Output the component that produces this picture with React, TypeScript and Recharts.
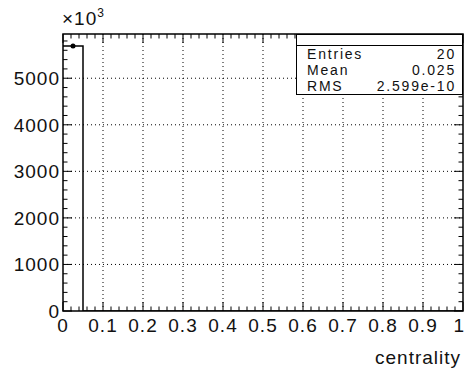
import {
    ComposedChart, Line, Scatter, XAxis, YAxis, ReferenceLine, ReferenceArea
} from "recharts";

// histogram bins (centrality), counts in units of 10^3
const BIN_LOW = [0, 0.05, 0.1, 0.15, 0.2, 0.25, 0.3, 0.35, 0.4, 0.45, 0.5, 0.55, 0.6, 0.65, 0.7, 0.75, 0.8, 0.85, 0.9, 0.95];
const COUNTS = [5690, 0, 0, 0, 0, 0, 0, 0, 0, 0, 0, 0, 0, 0, 0, 0, 0, 0, 0, 0];
const BIN_WIDTH = 0.05;
const X_MAX = 1;
const Y_MAX = 5950;

const X_MAJOR = [0, 0.1, 0.2, 0.3, 0.4, 0.5, 0.6, 0.7, 0.8, 0.9, 1];
const X_LABELS = ["0", "0.1", "0.2", "0.3", "0.4", "0.5", "0.6", "0.7", "0.8", "0.9", "1"];
const Y_MAJOR = [0, 1000, 2000, 3000, 4000, 5000];
const Y_LABELS = ["0", "1000", "2000", "3000", "4000", "5000"];

const STATS = [
    { name: "Entries", value: "20" },
    { name: "Mean", value: "0.025" },
    { name: "RMS", value: "2.599e-10" },
];

const W = 465;
const H = 372;
const LEFT = 63;
const TOP = 34;
const RIGHT = 463;
const BOTTOM = 311;
const FONT = "'Liberation Sans', Arial, Helvetica, sans-serif";

// minor tick positions (5 subdivisions per major)
const X_MINOR: number[] = [];
for (let i = 0; i <= 50; i++) X_MINOR.push(i * 0.02);
const Y_MINOR: number[] = [];
for (let v = 0; v <= Y_MAX; v += 200) Y_MINOR.push(v);

const histRows = BIN_LOW.map((x, i) => ({ x, count: COUNTS[i] })).concat([{ x: X_MAX, count: 0 }]);
const markerRows = BIN_LOW.map((x, i) => ({ x: x + BIN_WIDTH / 2, count: COUNTS[i] })).filter((r) => r.count > 0);

const majorIndex = (list: number[], v: number) => list.findIndex((m) => Math.abs(m - v) < 1e-6);

function XTick(props: any) {
    const { x, payload } = props;
    const idx = majorIndex(X_MAJOR, payload.value);
    const len = idx >= 0 ? 9 : 4.5;
    const last = idx === X_MAJOR.length - 1;
    return (
        <g>
            <line x1={x} x2={x} y1={BOTTOM} y2={BOTTOM - len} stroke="#000" strokeWidth={1} />
            <line x1={x} x2={x} y1={TOP} y2={TOP + len} stroke="#000" strokeWidth={1} />
            {idx >= 0 && (
                <text x={last ? W - 1 : x} y={BOTTOM + 21} textAnchor={last ? "end" : "middle"}
                    fontSize={19} letterSpacing={last ? 0 : 1} fontFamily={FONT} fill="#111">
                    {X_LABELS[idx]}
                </text>
            )}
        </g>
    );
}

function YTick(props: any) {
    const { y, payload } = props;
    const idx = majorIndex(Y_MAJOR, payload.value);
    const len = idx >= 0 ? 9 : 4.5;
    return (
        <g>
            <line x1={LEFT} x2={LEFT + len} y1={y} y2={y} stroke="#000" strokeWidth={1} />
            <line x1={RIGHT} x2={RIGHT - len} y1={y} y2={y} stroke="#000" strokeWidth={1} />
            {idx >= 0 && (
                <text x={LEFT - 3} y={y + 7} textAnchor="end" fontSize={19} letterSpacing={1}
                    fontFamily={FONT} fill="#111">
                    {Y_LABELS[idx]}
                </text>
            )}
        </g>
    );
}

function Dot(props: any) {
    const { cx, cy } = props;
    return <circle cx={cx} cy={cy} r={2.5} fill="#000" />;
}

export default function App() {
    return (
        <div style={{ position: "absolute", left: 0, top: 0, width: W, height: H, background: "#fff", fontFamily: FONT }}>
            <ComposedChart
                width={W}
                height={H}
                data={histRows}
                margin={{ top: TOP, right: W - RIGHT, bottom: H - BOTTOM - 2, left: LEFT - 2 }}
            >
                <XAxis
                    dataKey="x"
                    type="number"
                    domain={[0, X_MAX]}
                    ticks={X_MINOR}
                    interval={0}
                    height={2}
                    tickSize={0}
                    axisLine={false}
                    tickLine={false}
                    tick={(p: any) => <XTick {...p} />}
                    allowDataOverflow
                />
                <YAxis
                    type="number"
                    domain={[0, Y_MAX]}
                    ticks={Y_MINOR}
                    interval={0}
                    width={2}
                    tickSize={0}
                    axisLine={false}
                    tickLine={false}
                    tick={(p: any) => <YTick {...p} />}
                    allowDataOverflow
                />
                {X_MAJOR.slice(1, -1).map((v) => (
                    <ReferenceLine key={"gx" + v} x={v} stroke="#000" strokeWidth={1} strokeDasharray="1 3" />
                ))}
                {Y_MAJOR.slice(1).map((v) => (
                    <ReferenceLine key={"gy" + v} y={v} stroke="#000" strokeWidth={1} strokeDasharray="1 3" />
                ))}
                <Line
                    type="stepAfter"
                    dataKey="count"
                    stroke="#000"
                    strokeWidth={1.5}
                    dot={false}
                    isAnimationActive={false}
                />
                <Scatter data={markerRows} dataKey="count" shape={<Dot />} isAnimationActive={false} />
                <ReferenceArea x1={0} x2={X_MAX} y1={0} y2={Y_MAX} fill="none" stroke="#000" strokeWidth={1.5} ifOverflow="visible" />
            </ComposedChart>

            <div style={{ position: "absolute", left: 62, top: 8, fontSize: 19, letterSpacing: 1, color: "#111" }}>
                ×10<span style={{ fontSize: 12, position: "relative", top: -8, letterSpacing: 0 }}>3</span>
            </div>

            <div style={{
                position: "absolute", left: 375, top: 347, fontSize: 19, letterSpacing: 1, color: "#111",
            }}>
                centrality
            </div>

            <div style={{
                position: "absolute", left: 296, top: 34, width: 167, height: 61, boxSizing: "border-box",
                border: "1.5px solid #000", background: "#fff", overflow: "hidden",
            }}>
                <div style={{ height: 10, borderBottom: "1.5px solid #000" }} />
                <div style={{ padding: "0 6px 0 10px", fontSize: 14, lineHeight: "16px", color: "#111", letterSpacing: 1.8 }}>
                    {STATS.map((s) => (
                        <div key={s.name} style={{ display: "flex", justifyContent: "space-between", height: 16 }}>
                            <span>{s.name}</span>
                            <span>{s.value}</span>
                        </div>
                    ))}
                </div>
            </div>
        </div>
    );
}
